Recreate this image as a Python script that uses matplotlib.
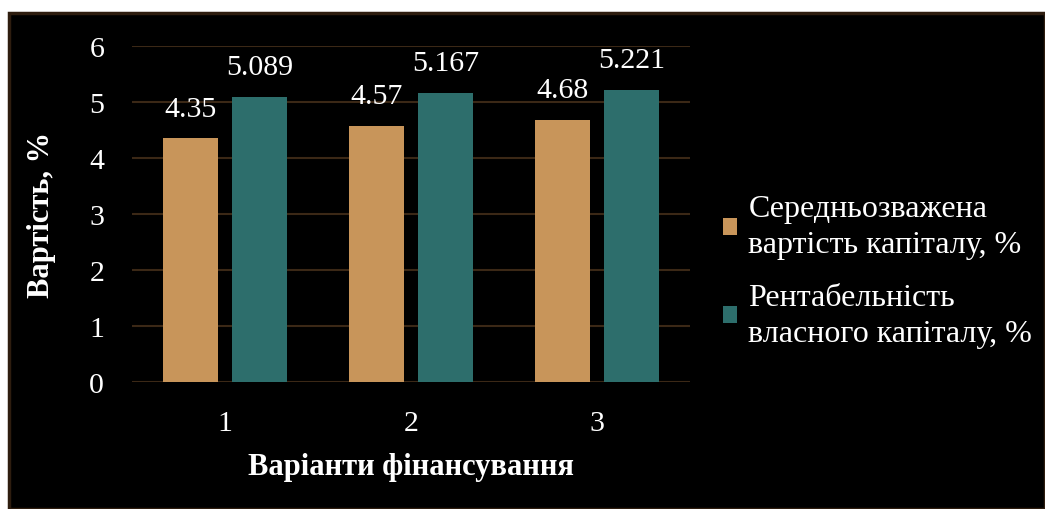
import matplotlib.pyplot as plt
from matplotlib.patches import Rectangle
import numpy as np

plt.rcParams['font.family'] = ['Liberation Serif', 'DejaVu Serif']

variants = ['1', '2', '3']
wacc = [4.35, 4.57, 4.68]
roe = [5.089, 5.167, 5.221]
wacc_labels = ['4.35', '4.57', '4.68']
roe_labels = ['5.089', '5.167', '5.221']
series_names = ['Середньозважена\nвартість капіталу, %',
                'Рентабельність\nвласного капіталу, %']

orange = '#c8955a'
teal = '#2d6e6c'
grid_col = '#3b2816'

fig = plt.figure(figsize=(10.45, 5.10), dpi=100)
fig.patch.set_facecolor('white')

# black panel behind the chart
panel = Rectangle((9 / 1045, 0), 1 - 9 / 1045, (510 - 14) / 510,
                  transform=fig.transFigure, facecolor='black',
                  edgecolor='#2e1d0f', linewidth=2.5, zorder=-5)
fig.add_artist(panel)

ax = fig.add_axes([132 / 1045, 127 / 510, 558 / 1045, 336 / 510])
ax.patch.set_alpha(0)

x = np.arange(len(variants))
w = 0.30
off = 0.185
b1 = ax.bar(x - off, wacc, w, color=orange, zorder=2)
b2 = ax.bar(x + off, roe, w, color=teal, zorder=2)

for bars, labels in ((b1, wacc_labels), (b2, roe_labels)):
    for bar, lab in zip(bars, labels):
        ax.annotate(lab, (bar.get_x() + bar.get_width() / 2, bar.get_height()),
                    xytext=(0, 12), textcoords='offset points',
                    ha='center', va='bottom', color='white', fontsize=21.5)

ax.set_xlim(-0.5, 2.5)
ax.set_ylim(0, 6)
ax.set_yticks(range(7))
ax.set_xticks(x)
ax.set_xticklabels(variants)
ax.grid(axis='y', color=grid_col, linewidth=1.5, zorder=0)
ax.set_axisbelow(True)
for s in ax.spines.values():
    s.set_visible(False)
ax.tick_params(colors='white', labelsize=21.5, length=0)
ax.tick_params(axis='y', pad=20)
ax.tick_params(axis='x', pad=20)

ax.set_xlabel('Варіанти фінансування', color='white', fontsize=22,
              fontweight='bold', labelpad=12)
ax.set_ylabel('Вартість, %', color='white', fontsize=22,
              fontweight='bold', labelpad=24)

leg = fig.legend([b1, b2], series_names, loc='center left',
                 bbox_to_anchor=(694 / 1045, 1 - 272 / 510), frameon=False,
                 fontsize=23, labelcolor='white', handlelength=0.45,
                 handleheight=0.45, handletextpad=0.35, labelspacing=0.75)
for t in leg.get_texts():
    t.set_linespacing(1.3)

fig.savefig('out.png', dpi=100, facecolor=fig.get_facecolor())
